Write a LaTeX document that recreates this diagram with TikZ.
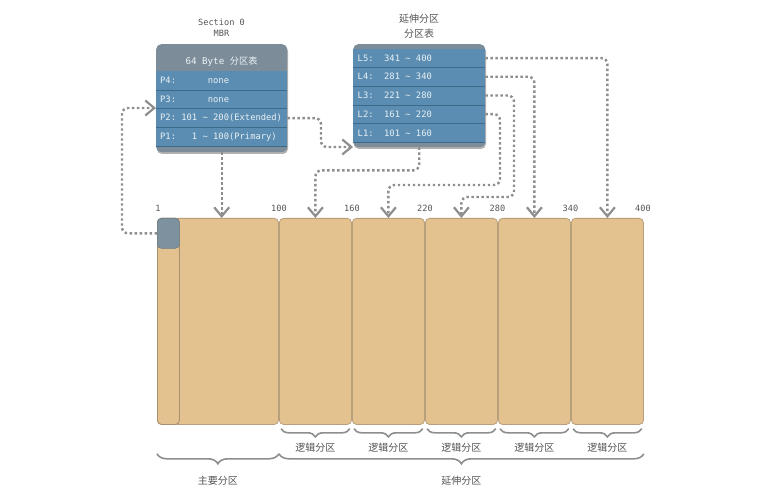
\documentclass[tikz,border=0pt]{standalone}
\usepackage{fontspec}
\setmainfont{DejaVu Sans}
\setmonofont{DejaVu Sans Mono}
\newfontfamily\cjk{Noto Sans CJK SC}
\usetikzlibrary{arrows.meta,decorations.pathreplacing,calc}
\newcommand\ms{\hphantom{0}}

\definecolor{rowblue}{HTML}{5A8DB1}
\definecolor{rowdark}{HTML}{3E6A8A}
\definecolor{hdrgray}{HTML}{7C8D99}
\definecolor{sqgray}{HTML}{7D919F}
\definecolor{tanfill}{HTML}{E3C290}
\definecolor{tanline}{HTML}{B9A07C}
\definecolor{dotgray}{HTML}{8E8E8E}
\definecolor{txtgray}{HTML}{555555}
\definecolor{rowtxt}{HTML}{EAF1F6}

\begin{document}
\begin{tikzpicture}[x=1pt,y=-1pt,
  boxgray/.style={fill=hdrgray, rounded corners=5pt, inner sep=0pt, anchor=north west},
  row/.style={fill=rowblue, minimum width=131pt, minimum height=18.75pt, inner sep=0pt,
    text width=123pt, align=left, text=rowtxt, font=\ttfamily\fontsize{8.8}{10}\selectfont, anchor=north west},
  sepline/.style={draw=rowdark, line width=0.9pt},
  block/.style={fill=tanfill, draw=tanline, line width=0.8pt, rounded corners=4pt, inner sep=0pt,
    minimum height=206pt, anchor=north west},
  numlab/.style={font=\ttfamily\fontsize{8.6}{10}\selectfont, text=txtgray},
  title/.style={font=\ttfamily\fontsize{8.6}{10}\selectfont, text=txtgray},
  cjklab/.style={font=\cjk\fontsize{10}{11}\selectfont, text=txtgray},
  conn/.style={draw=dotgray, line width=2.4pt, dash pattern=on 2.4pt off 2.6pt, rounded corners=6pt,
    -{Straight Barb[length=9pt,width=15pt,line width=2.2pt]}},
  bracel/.style={draw=dotgray, line width=1.6pt, decorate, decoration={brace, mirror, amplitude=#1}},
]
\useasboundingbox (0,0) rectangle (777,500);

% titles
\node[title] (t1) at (221.5,22) {Section 0};
\node[title] (t2) at (221.5,33) {MBR};
\node[cjklab] (t3) at (419,19) {延伸分区};
\node[cjklab] (t4) at (419,34) {分区表};

% MBR box
\fill[black!30, rounded corners=5pt] (157,46) rectangle (288,154);
\node[boxgray, minimum width=131pt, minimum height=108pt] (mbr) at (156,44) {};
\node[font=\ttfamily\fontsize{9.2}{10}\selectfont, text=rowtxt] (hdr) at (221.5,62) {64 Byte {\cjk 分区表}};
\node[row] (P4) at (156,71) {P4:\ms\ms\ms\ms\ms\ms none};
\node[row] (P3) at (156,89.75) {P3:\ms\ms\ms\ms\ms\ms none};
\node[row] (P2) at (156,108.5) {P2:\ms 101\ms\textasciitilde\ms 200(Extended)};
\node[row] (P1) at (156,127.25) {P1:\ms\ms\ms 1\ms\textasciitilde\ms 100(Primary)};
\foreach \r in {P4,P3,P2,P1} \draw[sepline] (\r.south west) -- (\r.south east);

% extended partition table
\fill[black!30, rounded corners=5pt] (354,46) rectangle (486,149);
\node[boxgray, minimum width=132pt, minimum height=103pt] (ext) at (353,44) {};
\node[row, minimum width=132pt] (L5) at (353,48.5) {L5:\ms\ms 341\ms\textasciitilde\ms 400};
\node[row, minimum width=132pt] (L4) at (353,67.2) {L4:\ms\ms 281\ms\textasciitilde\ms 340};
\node[row, minimum width=132pt] (L3) at (353,85.9) {L3:\ms\ms 221\ms\textasciitilde\ms 280};
\node[row, minimum width=132pt] (L2) at (353,104.6) {L2:\ms\ms 161\ms\textasciitilde\ms 220};
\node[row, minimum width=132pt] (L1) at (353,123.3) {L1:\ms\ms 101\ms\textasciitilde\ms 160};
\foreach \r in {L5,L4,L3,L2,L1} \draw[sepline] (\r.south west) -- (\r.south east);

% disk blocks
\node[block, minimum width=121pt] (B0) at (157,218) {};
\node[block, minimum width=22pt, draw=tanline!90!black] (strip) at (157,218) {};
\node[fill=sqgray, draw=sqgray!85!black, line width=0.6pt, rounded corners=4pt, inner sep=0pt,
  minimum width=22pt, minimum height=30pt, anchor=north west] (sq) at (157,218) {};
\node[block, minimum width=72pt] (B1) at (279,218) {};
\node[block, minimum width=72pt] (B2) at (352,218) {};
\node[block, minimum width=72pt] (B3) at (425,218) {};
\node[block, minimum width=72pt] (B4) at (498,218) {};
\node[block, minimum width=72pt] (B5) at (571,218) {};

% boundary numbers
\node[numlab] (n1) at (158,208) {1};
\node[numlab] (n100) at (279,208) {100};
\node[numlab] (n160) at (352,208) {160};
\node[numlab] (n220) at (425,208) {220};
\node[numlab] (n280) at (497.5,208) {280};
\node[numlab] (n340) at (570.5,208) {340};
\node[numlab] (n400) at (643,208) {400};

% connectors
\draw[conn] (mbr.south) -- (mbr.south |- B0.north);
\draw[conn] (ext.south) -- ++(0,23) -| (B1.north);
\draw[conn] (L2.east) -| (500,185) -| (B2.north);
\draw[conn] (L3.east) -| (514,197) -| (B3.north);
\draw[conn] (L4.east) -| (B4.north);
\draw[conn] (L5.east) -| (B5.north);
\draw[conn] (P2.east) -| (321,147) -- (ext.west |- 0,147);
\draw[conn] (sq.west) -- ++(-35,0) |- (mbr.west |- 0,108);

% braces
\foreach \b in {B1,B2,B3,B4,B5} {
  \draw[bracel=8pt] ($(\b.south west)+(2,4)$) -- ($(\b.south east)+(-2,4)$);
  \node[cjklab] (lab\b) at ($(\b.south)+(0,23)$) {逻辑分区};
}
\draw[bracel=10pt] ($(B0.south west)+(0,29)$) -- ($(B0.south east)+(0,29)$);
\node[cjklab] (labP) at ($(B0.south)+(0,56)$) {主要分区};
\draw[bracel=10pt] ($(B1.south west)+(0,29)$) -- ($(B5.south east)+(0,29)$);
\node[cjklab] (labE) at ($(B3.south)+(0,56)$) {延伸分区};
\end{tikzpicture}
\end{document}
